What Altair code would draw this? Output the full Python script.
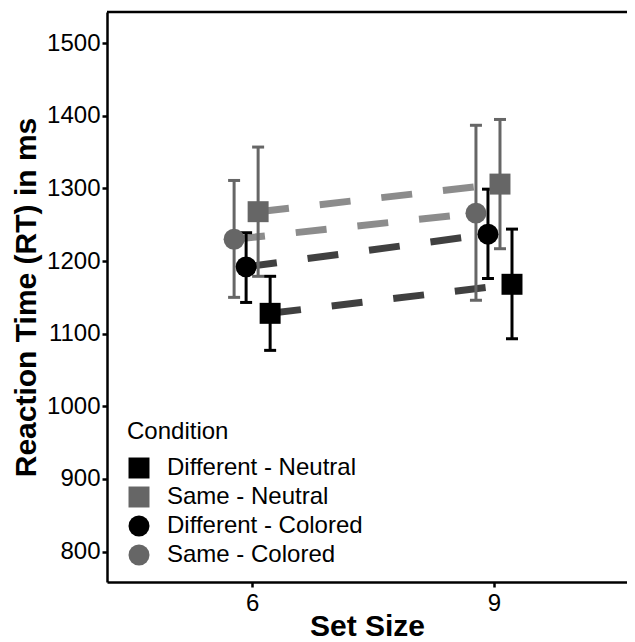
import altair as alt
import pandas as pd

conditions = ["Different - Neutral", "Same - Neutral", "Different - Colored", "Same - Colored"]
set_sizes = [6, 9]
rt_mean_6 = [1128, 1268, 1192, 1230]
rt_mean_9 = [1168, 1306, 1237, 1266]
ci_low_6 = [1077, 1179, 1143, 1150]
ci_high_6 = [1179, 1357, 1239, 1311]
ci_low_9 = [1093, 1217, 1176, 1146]
ci_high_9 = [1244, 1395, 1299, 1387]

dodge_order = ["Same - Colored", "Different - Colored", "Same - Neutral", "Different - Neutral"]
DODGE = 0.149

rows = []
for i, c in enumerate(conditions):
    off = (dodge_order.index(c) - 1.5) * DODGE
    for s, m, lo, hi in [(set_sizes[0], rt_mean_6[i], ci_low_6[i], ci_high_6[i]),
                         (set_sizes[1], rt_mean_9[i], ci_low_9[i], ci_high_9[i])]:
        rows.append(dict(Condition=c, SetSize=s, x=s + off, rt=m, lo=lo, hi=hi))
df = pd.DataFrame(rows)

W, H = 520, 570
FONT = "Liberation Sans"

cdomain = conditions
crange = ["#000000", "#666666", "#000000", "#666666"]
cscale = alt.Scale(domain=cdomain, range=crange)

xscale = alt.Scale(domain=[4.2, 10.65], nice=False, zero=False)
yscale = alt.Scale(domain=[758, 1543], nice=False, zero=False)

x_enc = alt.X("x:Q", scale=xscale,
              axis=alt.Axis(values=set_sizes, title="Set Size", format="d",
                            titleBaseline="alphabetic", titleY=53))
y_enc = alt.Y("rt:Q", scale=yscale,
              axis=alt.Axis(values=list(range(800, 1501, 100)),
                            title="Reaction Time (RT) in ms", format="d"))

base = alt.Chart(df).transform_calculate(
    strokecol="indexof(datum.Condition, 'Same') === 0 ? '#666666' : '#000000'"
)
stroke_enc = alt.Stroke("strokecol:N", scale=None)

lines = base.mark_line(strokeWidth=7, strokeDash=[31, 31], strokeCap="butt",
                       opacity=0.75).encode(
    x=x_enc, y=y_enc, stroke=stroke_enc, detail="Condition:N",
)

errbars = base.mark_rule(strokeWidth=3).encode(
    x="x:Q", y="lo:Q", y2="hi:Q", stroke=stroke_enc,
)
caps_lo = base.mark_rule(strokeWidth=3, xOffset=-6, x2Offset=6).encode(
    x="x:Q", x2="x:Q", y="lo:Q", stroke=stroke_enc,
)
caps_hi = base.mark_rule(strokeWidth=3, xOffset=-6, x2Offset=6).encode(
    x="x:Q", x2="x:Q", y="hi:Q", stroke=stroke_enc,
)

leg = alt.Legend(title="Condition", orient="none", legendX=20, legendY=408,
                 titleFontSize=24, titleFontWeight="normal", titleFont=FONT,
                 titleColor="black", labelFontSize=24, labelFont=FONT,
                 labelColor="black", rowPadding=5, titlePadding=12,
                 labelOffset=16, labelLimit=0, padding=0)

points = alt.Chart(df).mark_point(filled=True, opacity=1).encode(
    x="x:Q", y="rt:Q",
    color=alt.Color("Condition:N", scale=cscale, legend=leg),
    shape=alt.Shape("Condition:N",
                    scale=alt.Scale(domain=cdomain,
                                    range=["square", "square", "circle", "circle"]),
                    legend=leg),
    size=alt.Size("Condition:N",
                  scale=alt.Scale(domain=cdomain, range=[440, 440, 350, 350]),
                  legend=leg),
)

top_border = alt.Chart(pd.DataFrame({"k": [0]})).mark_rule(
    color="black", strokeWidth=2.5).encode(
    x=alt.value(0), x2=alt.value(W), y=alt.value(0))

chart = alt.layer(lines, errbars, caps_lo, caps_hi, points, top_border).properties(
    width=W, height=H,
    autosize=alt.AutoSizeParams(type="none"),
    padding={"left": 99, "top": 4, "right": 0, "bottom": 62},
).configure_view(stroke=None).configure_axis(
    grid=False, domainColor="black", domainWidth=2.5, tickColor="black",
    tickWidth=2.5, tickSize=5, labelFont=FONT, labelFontSize=24,
    labelColor="black", titleFont=FONT, titleFontSize=30, titleFontWeight="bold",
    titleColor="black",
).configure_axisY(labelPadding=2, titlePadding=5).configure_axisX(
    labelPadding=4)

chart.save("out.html", embed_options={"renderer": "svg", "actions": False})
